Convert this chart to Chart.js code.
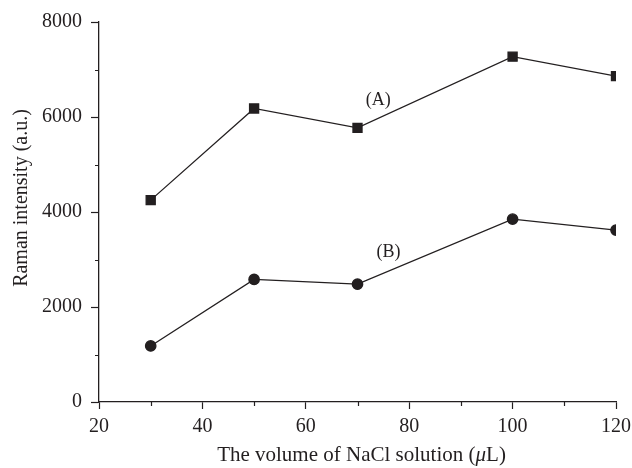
<!DOCTYPE html>
<html>
<head>
<meta charset="utf-8">
<script src="https://cdn.jsdelivr.net/npm/chart.js@4.4.1/dist/chart.umd.min.js"></script>
<style>
  html, body { margin: 0; padding: 0; background: #fff; }
  #wrap { width: 632px; height: 468px; }
</style>
</head>
<body>
<div id="wrap"><canvas id="chart"></canvas></div>
<script>
// volumes of NaCl solution (uL)
const volumes = [30, 50, 70, 100, 120];
// Raman intensity, series (A) and (B)
const seriesA = [4250, 6180, 5770, 7270, 6860];
const seriesB = [1180, 2580, 2480, 3850, 3620];
// curve labels placed in data coordinates
const curveLabels = ["(A)", "(B)"];
const curveLabelX = [74, 76];
const curveLabelY = [6360, 3160];

const ink = "#231f20";
const font = "'Liberation Serif', 'DejaVu Serif', serif";

// minor ticks, axis titles (italic mu) and the curve labels
const extras = {
  id: "extras",
  afterDraw(chart) {
    let ctx = chart.ctx;
    let xs = chart.scales.x;
    let ys = chart.scales.y;
    ctx.save();
    ctx.strokeStyle = ink;
    ctx.lineWidth = 1.2;
    ctx.beginPath();
    for (let v = 30; v < 120; v += 20) {
      let px = Math.round(xs.getPixelForValue(v)) + 0.5;
      ctx.moveTo(px, xs.top);
      ctx.lineTo(px, xs.top + 4);
    }
    for (let v = 1000; v < 8000; v += 2000) {
      let py = Math.round(ys.getPixelForValue(v)) + 0.5;
      ctx.moveTo(ys.right, py);
      ctx.lineTo(ys.right - 4, py);
    }
    ctx.stroke();
    ctx.fillStyle = ink;
    ctx.textBaseline = "middle";

    ctx.font = "18px " + font;
    ctx.textAlign = "center";
    curveLabels.forEach((t, i) => {
      ctx.fillText(t, xs.getPixelForValue(curveLabelX[i]), ys.getPixelForValue(curveLabelY[i]));
    });

    // x title with italic mu
    let parts = [
      ["The volume of NaCl solution (", "21px " + font],
      ["μ", "italic 21px " + font],
      ["L)", "21px " + font],
    ];
    let total = 0;
    parts.forEach((p) => { ctx.font = p[1]; total += ctx.measureText(p[0]).width; });
    let cx = (xs.left + xs.right) / 2 + 4 - total / 2;
    ctx.textAlign = "left";
    parts.forEach((p) => {
      ctx.font = p[1];
      ctx.fillText(p[0], cx, 455);
      cx += ctx.measureText(p[0]).width;
    });

    // y title
    ctx.translate(22, (ys.top + ys.bottom) / 2 - 14);
    ctx.rotate(-Math.PI / 2);
    ctx.font = "20px " + font;
    ctx.textAlign = "center";
    ctx.fillText("Raman intensity (a.u.)", 0, 0);
    ctx.restore();
  }
};

let ctx = document.querySelector("#chart").getContext("2d");
new Chart(ctx, {
  type: "line",
  data: {
    datasets: [
      {
        label: "(A)",
        data: volumes.map((v, i) => ({ x: v, y: seriesA[i] })),
        borderColor: ink,
        backgroundColor: ink,
        borderWidth: 1.3,
        pointStyle: "rect",
        pointRadius: 6.4,
        pointHoverRadius: 6.4,
      },
      {
        label: "(B)",
        data: volumes.map((v, i) => ({ x: v, y: seriesB[i] })),
        borderColor: ink,
        backgroundColor: ink,
        borderWidth: 1.3,
        pointStyle: "circle",
        pointRadius: 5.2,
        pointHoverRadius: 5.2,
      },
    ],
  },
  options: {
    responsive: true,
    maintainAspectRatio: false,
    animation: false,
    layout: { padding: { top: 22, right: 16, left: 0, bottom: 0 } },
    plugins: {
      legend: { display: false },
      tooltip: { enabled: false },
    },
    scales: {
      x: {
        type: "linear",
        min: 20,
        max: 120,
        ticks: {
          stepSize: 20, color: ink, padding: 6, maxRotation: 0,
          font: { family: font, size: 20 },
          callback: (v) => String(v),
        },
        grid: { drawOnChartArea: false, tickLength: 7, tickColor: ink, tickWidth: 1.2 },
        border: { color: ink, width: 1.3 },
        afterFit(scale) {
          scale.height = 66;
          scale.paddingLeft = 0;
          scale.paddingRight = 0;
        },
      },
      y: {
        min: 0,
        max: 8000,
        ticks: {
          stepSize: 2000, color: ink, padding: 9,
          font: { family: font, size: 20 },
          callback: (v) => String(v),
        },
        grid: { drawOnChartArea: false, tickLength: 8, tickColor: ink, tickWidth: 1.2 },
        border: { color: ink, width: 1.3 },
        afterFit(scale) {
          scale.width = 99;
          scale.paddingTop = 0;
          scale.paddingBottom = 0;
        },
      },
    },
  },
  plugins: [extras],
});
</script>
</body>
</html>
